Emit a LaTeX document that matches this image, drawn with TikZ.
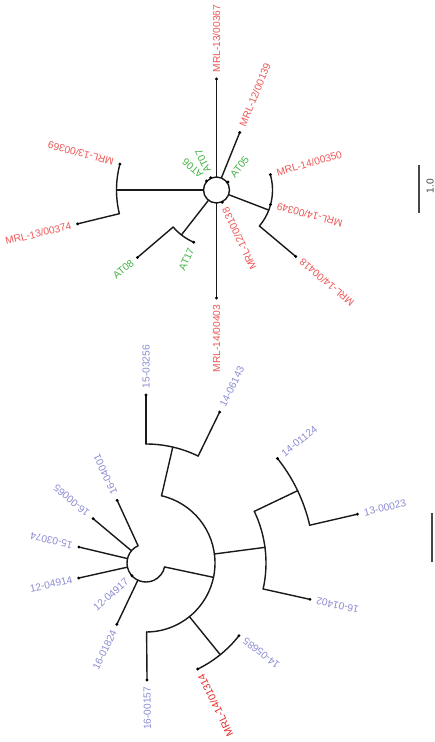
\documentclass[tikz,border=0pt]{standalone}
\usepackage{fontspec}
\setmainfont{Liberation Sans}
\usetikzlibrary{calc}
\definecolor{lred}{RGB}{238,88,88}
\definecolor{lgreen}{RGB}{70,178,70}
\definecolor{lblue}{RGB}{140,140,212}
\definecolor{dred}{RGB}{232,40,40}
\definecolor{sbgray}{RGB}{70,70,70}
\newcommand\mkpt[4]{\coordinate (#1) at ($(#2)+(#3:#4)$);}
\newcommand\labW[5]{\node[lab,text=#5,rotate=#3,anchor=west] (#1) at ($(#2)+(#3:6.5)$) {#4};}
\newcommand\labE[5]{\node[lab,text=#5,rotate=#3+180,anchor=east] (#1) at ($(#2)+(#3:6.5)$) {#4};}
\begin{document}
\begin{tikzpicture}[x=1pt,y=1pt,
  br/.style={line width=1.4pt,black!90,line cap=round},
  sb/.style={line width=1.4pt,sbgray},
  lab/.style={font=\fontsize{10.2}{12}\selectfont,inner sep=0pt}]
\useasboundingbox[fill=white] (0,0) rectangle (435,-742);
\coordinate (C1) at (216.5,-190);
\coordinate (C2) at (146,-563);
% ---------------- top tree ----------------
\draw[br] (C1) circle[radius=13pt];
\mkpt{a367b}{C1}{90}{13}\mkpt{a367}{C1}{90}{111}
\draw[br] (a367b)--(a367);
\mkpt{a139b}{C1}{68}{13}\mkpt{a139}{C1}{68}{62}
\draw[br] (a139b)--(a139);
\mkpt{at05}{C1}{35}{14}
\mkpt{at07}{C1}{115}{13.5}
\mkpt{at06}{C1}{138}{13.5}
\mkpt{lb}{C1}{180}{13}\mkpt{ln}{C1}{180}{100}
\draw[br] (lb)--(ln);
\mkpt{a369}{C1}{165}{100}
\draw[br] (a369) arc[start angle=165,end angle=193.7,radius=100pt] coordinate (a374b);
\mkpt{a374}{C1}{193.7}{143}
\draw[br] (a374b)--(a374);
\mkpt{gb}{C1}{232}{13}\mkpt{gn}{C1}{232}{57}
\draw[br] (gb)--(gn);
\mkpt{at08b}{C1}{220.5}{57}
\draw[br] (at08b) arc[start angle=220.5,end angle=246.5,radius=57pt] coordinate (at17);
\mkpt{at08}{C1}{220.5}{104}
\draw[br] (at08b)--(at08);
\mkpt{a403b}{C1}{270}{13}\mkpt{a403}{C1}{270}{108}
\draw[br] (a403b)--(a403);
\mkpt{a138}{C1}{295}{13.5}
\mkpt{rb}{C1}{-21}{13}\mkpt{rn}{C1}{-21}{56}
\draw[br] (rb)--(rn);
\mkpt{a350}{C1}{16}{56}
\draw[br] (a350) arc[start angle=16,end angle=-40,radius=56pt] coordinate (a418b);
\mkpt{a349}{C1}{-15}{56}
\mkpt{a418}{C1}{-40}{103.5}
\draw[br] (a418b)--(a418);
\foreach \p in {a367,a139,at05,at07,at06,a369,a374,at08,at17,a403,a138,a350,a349,a418}
  \fill[black] (\p) circle[radius=1.6pt];
\labW{l367}{a367}{90}{MRL-13/00367}{lred}
\labW{l139}{a139}{68}{MRL-12/00139}{lred}
\node[lab,text=lgreen,rotate=52,anchor=west] (l05) at ($(at05)+(52:7)$) {AT05};
\labW{l07}{at07}{115}{AT07}{lgreen}
\labW{l06}{at06}{138}{AT06}{lgreen}
\labW{l369}{a369}{165}{MRL-13/00369}{lred}
\labE{l374}{a374}{193.7}{MRL-13/00374}{lred}
\labE{l08}{at08}{220.5}{AT08}{lgreen}
\labE{l17}{at17}{246.5}{AT17}{lgreen}
\labE{l403}{a403}{270}{MRL-14/00403}{lred}
\labE{l138}{a138}{295}{MRL-12/00138}{lred}
\labW{l350}{a350}{16}{MRL-14/00350}{lred}
\labE{l349}{a349}{-15}{MRL-14/00349}{lred}
\labE{l418}{a418}{-40}{MRL-14/00418}{lred}
% ---------------- bottom tree ----------------
\mkpt{b0}{C2}{114.7}{19}
\draw[br] (b0) arc[start angle=114.7,end angle=348,radius=19pt] coordinate (bR);
\mkpt{b4001}{C2}{114.7}{69}\draw[br] (b0)--(b4001);
\mkpt{b0065s}{C2}{140}{19}\mkpt{b0065}{C2}{140}{69}\draw[br] (b0065s)--(b0065);
\mkpt{b3074s}{C2}{166.6}{19}\mkpt{b3074}{C2}{166.6}{69}\draw[br] (b3074s)--(b3074);
\mkpt{b4914s}{C2}{192.6}{19}\mkpt{b4914}{C2}{192.6}{69}\draw[br] (b4914s)--(b4914);
\mkpt{b4917}{C2}{222}{19}
\mkpt{b1824s}{C2}{244.6}{19}\mkpt{b1824}{C2}{244.6}{68}\draw[br] (b1824s)--(b1824);
\mkpt{bn1}{C2}{-12}{69}\draw[br] (bR)--(bn1);
\mkpt{bA}{C2}{-89.5}{69}
\draw[br] (bA) arc[start angle=-89.5,end angle=77,radius=69pt] coordinate (bUp);
\mkpt{b0157}{C2}{-89.5}{117}\draw[br] (bA)--(b0157);
\mkpt{bUpn}{C2}{77}{119}\draw[br] (bUp)--(bUpn);
\mkpt{b6143s}{C2}{64}{119}
\draw[br] (b6143s) arc[start angle=64,end angle=90,radius=119pt] coordinate (b3256s);
\mkpt{b6143}{C2}{64}{168}\draw[br] (b6143s)--(b6143);
\mkpt{b3256}{C2}{90}{168}\draw[br] (b3256s)--(b3256);
\mkpt{bMs}{C2}{7.5}{69}\mkpt{bMn}{C2}{7.5}{120}\draw[br] (bMs)--(bMn);
\mkpt{b1402s}{C2}{-12.5}{120}
\draw[br] (b1402s) arc[start angle=-12.5,end angle=25.5,radius=120pt] coordinate (bSs);
\mkpt{b1402}{C2}{-12.5}{168}\draw[br] (b1402s)--(b1402);
\mkpt{bSn}{C2}{25.5}{168}\draw[br] (bSs)--(bSn);
\mkpt{b0023s}{C2}{13}{168}
\draw[br] (b0023s) arc[start angle=13,end angle=38.5,radius=168pt] coordinate (b1124);
\mkpt{b0023}{C2}{13}{217}\draw[br] (b0023s)--(b0023);
\mkpt{bLs}{C2}{-51}{69}\mkpt{bLn}{C2}{-51}{118}\draw[br] (bLs)--(bLn);
\mkpt{bmrl}{C2}{-64}{118}
\draw[br] (bmrl) arc[start angle=-64,end angle=-38,radius=118pt] coordinate (b5685);
\foreach \p in {b4001,b0065,b3074,b4914,b4917,b1824,b0157,b6143,b3256,b1402,b0023,b1124,bmrl,b5685}
  \fill[black] (\p) circle[radius=1.6pt];
\labW{k4001}{b4001}{114.7}{16-04001}{lblue}
\labW{k0065}{b0065}{140}{16-00065}{lblue}
\labW{k3074}{b3074}{166.6}{15-03074}{lblue}
\labW{k3256}{b3256}{90}{15-03256}{lblue}
\labW{k6143}{b6143}{64}{14-06143}{lblue}
\labW{k1124}{b1124}{38.5}{14-01124}{lblue}
\labW{k0023}{b0023}{13}{13-00023}{lblue}
\labE{k4914}{b4914}{192.6}{12-04914}{lblue}
\labE{k4917}{b4917}{222}{12-04917}{lblue}
\labE{k1824}{b1824}{244.6}{16-01824}{lblue}
\labE{k0157}{b0157}{-89.5}{16-00157}{lblue}
\labE{kmrl}{bmrl}{-64}{MRL-14/01314}{dred}
\labE{k5685}{b5685}{-38}{14-05685}{lblue}
\labE{k1402}{b1402}{-12.5}{16-01402}{lblue}
% ---------------- scale bars ----------------
\coordinate (s1a) at (419,-165);\coordinate (s1b) at (419,-213);
\draw[sb] (s1a)--(s1b);
\node[lab,text=sbgray,rotate=90] (s1l) at (430,-186) {1.0};
\coordinate (s2a) at (432,-513);\coordinate (s2b) at (432,-562);
\draw[sb] (s2a)--(s2b);
\end{tikzpicture}
\end{document}
